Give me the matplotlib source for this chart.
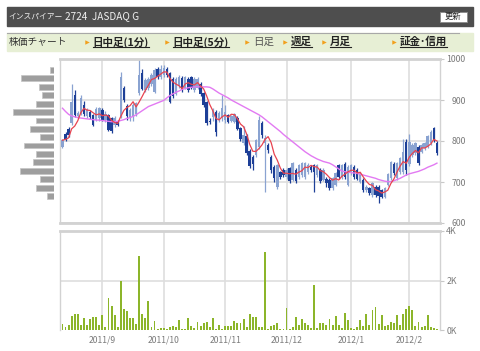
import matplotlib
matplotlib.use("Agg")
import matplotlib.pyplot as plt
from matplotlib.patches import Rectangle
import numpy as np
import pandas as pd

plt.rcParams['font.family'] = ['Noto Sans CJK JP', 'DejaVu Sans']

# TSE trading days 2011/8/15 - 2012/2/14
holidays = ['2011-09-19', '2011-09-23', '2011-10-10', '2011-11-03', '2011-11-23',
            '2011-12-23', '2012-01-02', '2012-01-03', '2012-01-09']
days = pd.bdate_range('2011-08-15', '2012-02-14')
days = days[~days.isin(pd.to_datetime(holidays))]

opens = [
    786, 818, 830, 843, 912, 860, 867, 888, 860, 871,
    863, 851, 855, 876, 851, 863, 855, 839, 847, 860,
    930, 885, 856, 860, 867, 916, 965, 924, 930, 940,
    920, 975, 955, 960, 975, 965, 950, 915, 935, 953,
    930, 950, 955, 925, 930, 940, 916, 896, 850, 859,
    871, 851, 855, 851, 863, 850, 847, 855, 831, 795,
    812, 775, 760, 766, 785, 845, 795, 790, 762, 737,
    689, 725, 729, 712, 733, 705, 729, 712, 716, 712,
    725, 737, 741, 716, 729, 705, 708, 705, 685, 693,
    741, 712, 745, 693, 721, 737, 729, 700, 705, 680,
    685, 668, 689, 689, 680, 663, 693, 709, 745, 709,
    725, 725, 797, 745, 766, 770, 786, 774, 782, 786,
    794, 831, 794]
highs = [
    806, 822, 835, 940, 924, 872, 912, 898, 880, 876,
    866, 882, 884, 880, 872, 866, 858, 860, 852, 968,
    935, 890, 880, 892, 896, 1000, 975, 953, 955, 966,
    978, 980, 985, 985, 980, 968, 955, 955, 962, 958,
    958, 955, 958, 955, 956, 945, 920, 898, 856, 880,
    875, 874, 912, 888, 867, 864, 869, 860, 835, 836,
    818, 780, 765, 806, 862, 850, 815, 795, 765, 742,
    745, 728, 733, 733, 737, 750, 733, 745, 750, 750,
    746, 742, 745, 745, 733, 733, 712, 709, 712, 725,
    745, 745, 748, 742, 745, 741, 733, 725, 709, 693,
    689, 700, 693, 693, 684, 689, 723, 752, 748, 750,
    762, 806, 806, 818, 795, 798, 790, 794, 798, 815,
    828, 835, 800]
lows = [
    782, 800, 810, 839, 858, 855, 864, 862, 856, 853,
    836, 848, 850, 848, 846, 824, 819, 834, 836, 855,
    895, 852, 850, 850, 862, 912, 925, 920, 925, 935,
    916, 950, 950, 955, 955, 892, 905, 912, 930, 920,
    926, 920, 926, 920, 926, 910, 884, 838, 842, 850,
    811, 847, 850, 845, 843, 846, 843, 826, 800, 790,
    765, 735, 730, 760, 780, 808, 676, 770, 722, 700,
    683, 708, 712, 708, 698, 702, 698, 708, 712, 708,
    720, 725, 676, 712, 698, 702, 688, 680, 680, 690,
    708, 708, 708, 690, 717, 708, 704, 697, 676, 676,
    668, 664, 664, 648, 660, 660, 690, 705, 716, 705,
    720, 720, 717, 740, 760, 766, 742, 770, 778, 782,
    790, 798, 766]
closes = [
    802, 806, 815, 896, 863, 868, 904, 867, 875, 858,
    840, 878, 880, 852, 867, 828, 824, 855, 839, 955,
    900, 860, 876, 888, 892, 961, 928, 949, 950, 962,
    973, 955, 975, 978, 960, 896, 910, 950, 957, 924,
    955, 925, 930, 950, 952, 915, 888, 843, 846, 876,
    823, 869, 880, 870, 847, 860, 865, 830, 805, 815,
    770, 740, 745, 802, 850, 815, 808, 778, 729, 709,
    741, 712, 716, 729, 702, 746, 702, 741, 746, 746,
    741, 729, 725, 741, 702, 729, 697, 685, 709, 721,
    712, 741, 712, 737, 741, 712, 708, 721, 680, 689,
    672, 697, 668, 665, 663, 685, 719, 750, 721, 746,
    758, 774, 729, 797, 790, 794, 746, 790, 794, 811,
    823, 802, 770]
# 25-day moving average as drawn on the chart
ma25 = [
    880, 872, 865, 861, 859, 857, 856, 855, 854, 853,
    852, 851, 851, 850, 849, 848, 847, 847, 848, 850,
    852, 855, 857, 860, 864, 869, 874, 879, 884, 887,
    890, 893, 896, 899, 905, 911, 915, 919, 922, 926,
    928, 930, 931, 932, 932, 932, 932, 932, 931, 927,
    922, 917, 913, 909, 905, 900, 896, 892, 888, 884,
    880, 876, 872, 868, 864, 859, 853, 847, 841, 835,
    829, 823, 816, 810, 804, 798, 792, 786, 780, 774,
    769, 764, 760, 756, 753, 750, 748, 746, 742, 737,
    732, 727, 725, 724, 723, 722, 721, 719, 717, 715,
    713, 711, 709, 706, 704, 702, 701, 701, 703, 706,
    709, 713, 717, 720, 722, 724, 726, 729, 732, 736,
    739, 742, 746]
# volume, thousand shares
volume = [
    0.24, 0.14, 0.22, 0.57, 0.65, 0.65, 0.22, 0.49, 0.19, 0.43,
    0.54, 0.54, 0.19, 0.60, 0.12, 1.30, 0.95, 0.62, 0.11, 1.96,
    0.85, 0.75, 0.49, 0.47, 0.24, 3.00, 0.66, 0.49, 1.17, 0.14,
    0.35, 0.05, 0.08, 0.08, 0.05, 0.12, 0.16, 0.14, 0.39, 0.05,
    0.03, 0.47, 0.16, 0.08, 0.33, 0.16, 0.30, 0.33, 0.11, 0.50,
    0.05, 0.22, 0.03, 0.16, 0.18, 0.16, 0.35, 0.30, 0.27, 0.43,
    0.11, 0.64, 0.53, 0.51, 0.11, 0.11, 3.14, 0.03, 0.16, 0.19,
    0.30, 0.05, 0.03, 0.88, 0.05, 0.11, 0.54, 0.19, 0.43, 0.27,
    0.19, 0.08, 1.82, 0.08, 0.30, 0.30, 0.22, 0.43, 0.19, 0.57,
    0.22, 0.08, 0.68, 0.41, 0.08, 0.05, 0.11, 0.41, 0.16, 0.65,
    0.19, 0.79, 0.92, 0.24, 0.62, 0.16, 0.22, 0.33, 0.27, 0.62,
    0.19, 0.65, 0.84, 0.95, 0.79, 0.16, 0.33, 0.11, 0.16, 0.60,
    0.11, 0.08, 0.05]
# volume by price (left profile)
profile_price = [973, 953, 932, 912, 891, 871, 850, 830, 809, 789, 768, 748, 727, 707, 686, 666]
profile_vol = [4, 33, 15, 12, 18, 41, 18, 24, 14, 30, 18, 21, 34, 14, 18, 7]

price_ticks = [600, 700, 800, 900, 1000]
vol_ticks = [0, 2, 4]
vol_labels = ['0K', '2K', '4K']

title_name = 'インスパイアー'
title_code = '2724  JASDAQ G'
nav_head = '株価チャート'
nav_items = ['日中足(1分)', '日中足(5分)', '日足', '週足', '月足', '証金･信用']
nav_links = [True, True, False, True, True, True]
nav_x = [92.5, 172.5, 253, 290.5, 330, 400]

W, H = 480, 351
fig = plt.figure(figsize=(W / 100, H / 100), dpi=100)
fig.patch.set_facecolor('white')


def px_axes(x0, y0, x1, y1):
    return fig.add_axes([x0 / W, 1 - y1 / H, (x1 - x0) / W, (y1 - y0) / H])


x = np.arange(len(days))
o = np.array(opens, float)
h = np.array(highs, float)
l = np.array(lows, float)
c = np.array(closes, float)
up = c >= o
ma5 = pd.Series(c).rolling(5, min_periods=1).mean()

month_idx = [i for i in range(1, len(days)) if days[i].month != days[i - 1].month]
month_lab = [f'{days[i].year}/{days[i].month}' for i in month_idx]

light, dark = '#8aa3d1', '#1d3f97'
grid_c = '#dedede'
edge_c = '#d2d2d2'

# price panel
ax = px_axes(60, 59, 440, 223)
ax.vlines(x[up], l[up], h[up], color=light, lw=0.9, zorder=2)
ax.vlines(x[~up], l[~up], h[~up], color=dark, lw=0.9, zorder=2)
ax.bar(x, c - o, bottom=o, width=0.8, color=np.where(up, light, dark), zorder=3)
ax.plot(x, ma25, color='#e27af2', lw=1.0, zorder=4)
ax.plot(x, ma5, color='#e8434f', lw=0.9, zorder=5)
ax.set_xlim(-0.8, 123)
ax.set_ylim(600, 1000)
ax.set_xticks(month_idx)
ax.set_yticks(price_ticks)
ax.grid(color=grid_c, lw=1.2)
ax.set_axisbelow(True)
ax.yaxis.tick_right()
ax.tick_params(axis='x', length=0, labelbottom=False)
ax.tick_params(axis='y', length=3, color='#c8c8c8', labelsize=6.3,
               labelcolor='#7a7a7a', pad=15.5)
for t in ax.get_yticklabels():
    t.set_horizontalalignment('right')
for side, sp in ax.spines.items():
    sp.set_color(edge_c)
    sp.set_linewidth(2 if side in ('top', 'bottom') else 1)

# volume panel
axv = px_axes(60, 231, 440, 330)
axv.bar(x, volume, width=0.62, color='#8cb52a', zorder=3)
axv.set_xlim(-0.8, 123)
axv.set_ylim(0, 4)
axv.set_yticks(vol_ticks, vol_labels)
axv.set_xticks(month_idx, month_lab)
axv.grid(color=grid_c, lw=1.2)
axv.set_axisbelow(True)
axv.yaxis.get_gridlines()[0].set_visible(False)
axv.yaxis.tick_right()
axv.tick_params(axis='y', length=3, color='#c8c8c8', labelsize=6.3,
                labelcolor='#7a7a7a', pad=1.5)
axv.tick_params(axis='x', length=0, labelsize=6.2, labelcolor='#7a7a7a', pad=4)
for side, sp in axv.spines.items():
    sp.set_color(edge_c)
    sp.set_linewidth(2 if side == 'top' else 1)
axv.spines['bottom'].set_visible(False)

# volume-by-price profile
axp = px_axes(10, 59, 54.3, 223)
axp.barh(profile_price, profile_vol, height=14.5, color='#9e9e9e',
         edgecolor='#c4c4c4', lw=0.5)
axp.set_xlim(44.3, 0)
axp.set_ylim(600, 1000)
axp.axis('off')

# header and navigation bar
axo = fig.add_axes([0, 0, 1, 1], zorder=-1)
axo.set_xlim(0, W)
axo.set_ylim(H, 0)
axo.axis('off')
axo.add_patch(Rectangle((7, 6.5), 466, 19.5, color='#4e4e4e'))
axo.text(8.5, 16.3, title_name, fontsize=5.6, color='#f0f0f0', va='center')
axo.text(65, 16.3, title_code, fontsize=7.2, color='#f0f0f0', va='center')
axo.add_patch(Rectangle((440, 11.5), 27, 10.5, fc='white', ec='#8a8a8a', lw=0.6))
axo.text(453.5, 16.8, '更新', fontsize=6, color='#222222', ha='center', va='center')

axo.add_patch(Rectangle((7, 33), 466, 18, color='#e7efd5'))
axo.plot([7, 459], [33, 33], color='#a8a8a8', lw=0.8)
axo.text(9, 42, nav_head, fontsize=7, color='#333333', va='center')
texts = []
for label, link, tx in zip(nav_items, nav_links, nav_x):
    t = axo.text(tx, 42, label, fontsize=7.6, va='center',
                 color='#222222' if link else '#555555',
                 fontweight='bold' if link else 'normal')
    texts.append((t, link))
    axo.plot(tx - 6, 41.5, marker='>', ms=3.2, color='#f2a01e', mec='none')

fig.canvas.draw()
rend = fig.canvas.get_renderer()
inv = axo.transData.inverted()
for t, link in texts:
    if not link:
        continue
    bb = t.get_window_extent(rend)
    x0, _ = inv.transform((bb.x0, bb.y0))
    x1, _ = inv.transform((bb.x1, bb.y0))
    axo.plot([x0, x1], [47.3, 47.3], color='#222222', lw=0.8)

fig.savefig('out.png', dpi=100)
